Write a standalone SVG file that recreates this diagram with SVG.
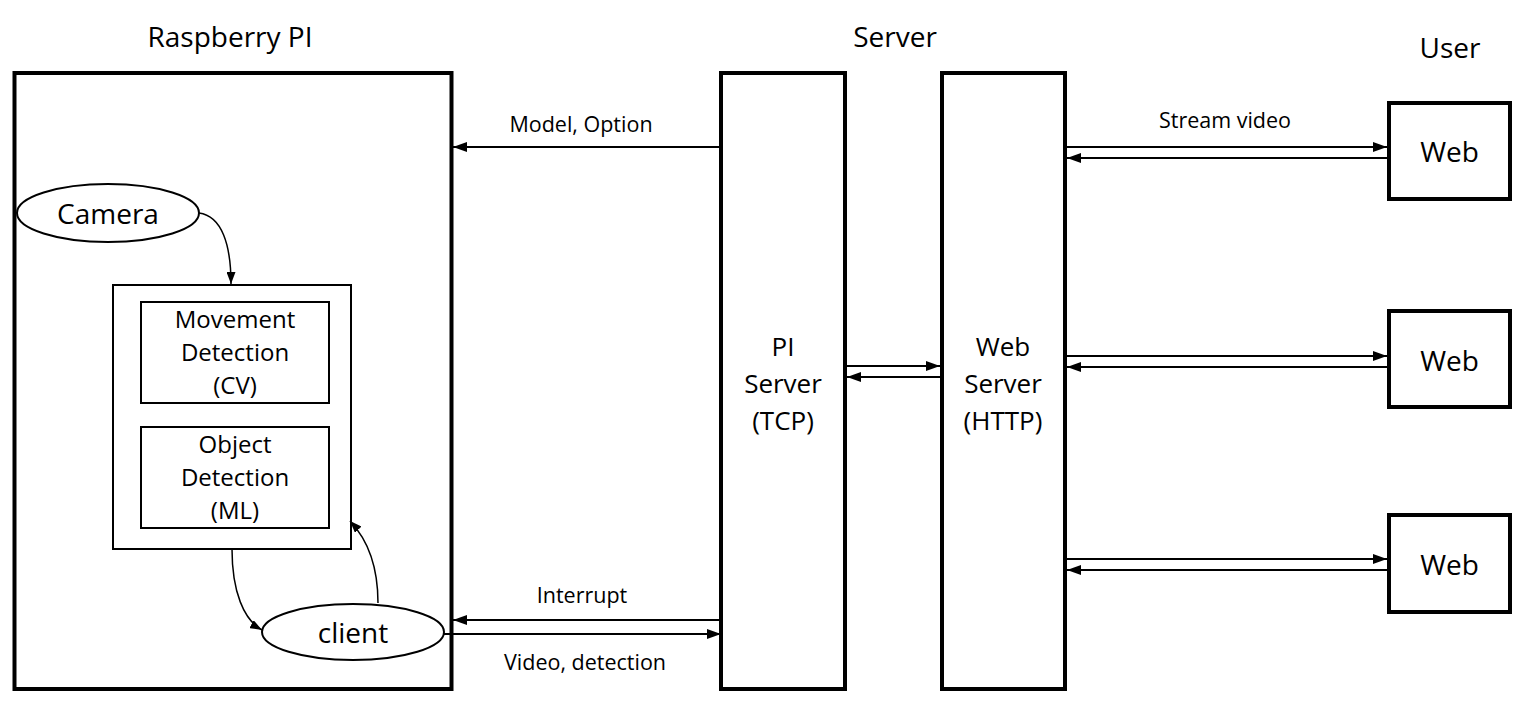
<svg xmlns="http://www.w3.org/2000/svg" width="1540" height="710" viewBox="0 0 1540 710">
<style>
text{font-family:"Open Sans","Noto Sans","Liberation Sans",sans-serif;fill:#000;text-anchor:middle}
.title{font-size:28px}
.big{font-size:28px}
.mid{font-size:26px}
.sm{font-size:24px}
.lbl{font-size:21.5px}
.thick{fill:#fff;stroke:#000;stroke-width:4}
.thin{fill:#fff;stroke:#000;stroke-width:2}
.ln{fill:none;stroke:#000;stroke-width:2}
.cv{fill:none;stroke:#000;stroke-width:1.5}
</style>
<defs>
<marker id="ah" viewBox="0 0 14 10" refX="14" refY="5" markerWidth="14" markerHeight="10" markerUnits="userSpaceOnUse" orient="auto">
<path d="M0,0 L14,5 L0,10 z" fill="#000"/>
</marker>
<marker id="ahs" viewBox="0 0 12 9" refX="12" refY="4.5" markerWidth="12" markerHeight="9" markerUnits="userSpaceOnUse" orient="auto">
<path d="M0,0 L12,4.5 L0,9 z" fill="#000"/>
</marker>
</defs>
<rect width="1540" height="710" fill="#fff"/>
<g id="titles">
<text class="title" x="230" y="47">Raspberry PI</text>
<text class="title" x="895" y="47">Server</text>
<text class="title" x="1450" y="58">User</text>
</g>
<g id="raspberry-pi">
<rect class="thick" x="14.5" y="73" width="437" height="616"/>
</g>
<g id="camera">
<ellipse class="thin" cx="108" cy="213" rx="91" ry="29"/>
<text class="big" x="108" y="224">Camera</text>
</g>
<g id="processing">
<rect class="thin" x="113" y="285" width="238" height="264"/>
</g>
<g id="movement-detection">
<rect class="thin" x="141" y="302" width="188" height="101"/>
<text class="sm" x="235" y="328">Movement</text>
<text class="sm" x="235" y="361">Detection</text>
<text class="sm" x="235" y="394">(CV)</text>
</g>
<g id="object-detection">
<rect class="thin" x="141" y="427" width="188" height="101"/>
<text class="sm" x="235" y="453">Object</text>
<text class="sm" x="235" y="486">Detection</text>
<text class="sm" x="235" y="519">(ML)</text>
</g>
<g id="client">
<ellipse class="thin" cx="353" cy="632" rx="91" ry="28"/>
<text class="big" x="353" y="643">client</text>
</g>
<g id="pi-server">
<rect class="thick" x="721" y="73" width="124" height="616"/>
<text class="mid" x="783" y="356">PI</text>
<text class="mid" x="783" y="393">Server</text>
<text class="mid" x="783" y="430">(TCP)</text>
</g>
<g id="web-server">
<rect class="thick" x="942" y="73" width="123" height="616"/>
<text class="mid" x="1003" y="356">Web</text>
<text class="mid" x="1003" y="393">Server</text>
<text class="mid" x="1003" y="430">(HTTP)</text>
</g>
<g id="web-1">
<rect class="thick" x="1389" y="103" width="121" height="96"/>
<text class="big" x="1449.5" y="162">Web</text>
</g>
<g id="web-2">
<rect class="thick" x="1389" y="311" width="121" height="96"/>
<text class="big" x="1449.5" y="371">Web</text>
</g>
<g id="web-3">
<rect class="thick" x="1389" y="515" width="121" height="97"/>
<text class="big" x="1449.5" y="575">Web</text>
</g>
<g id="connectors">
<path class="cv" d="M199,213 C222,216 231,245 231,284" marker-end="url(#ahs)"/>
<path class="cv" d="M232,549 C232,592 244,620 262,630" marker-end="url(#ahs)"/>
<path class="cv" d="M378,603 C378,568 368,540 350,521" marker-end="url(#ahs)"/>
<line class="ln" x1="721" y1="147" x2="453" y2="147" marker-end="url(#ah)"/>
<text class="lbl" x="581" y="132">Model, Option</text>
<line class="ln" x1="721" y1="620" x2="453" y2="620" marker-end="url(#ah)"/>
<text class="lbl" x="582" y="603">Interrupt</text>
<line class="ln" x1="444" y1="634" x2="721" y2="634" marker-end="url(#ah)"/>
<text class="lbl" x="585" y="670">Video, detection</text>
<line class="ln" x1="845" y1="366" x2="940" y2="366" marker-end="url(#ah)"/>
<line class="ln" x1="940" y1="377" x2="847" y2="377" marker-end="url(#ah)"/>
<line class="ln" x1="1067" y1="147" x2="1387" y2="147" marker-end="url(#ah)"/>
<line class="ln" x1="1387" y1="158" x2="1067" y2="158" marker-end="url(#ah)"/>
<text class="lbl" x="1225" y="128">Stream video</text>
<line class="ln" x1="1067" y1="356" x2="1387" y2="356" marker-end="url(#ah)"/>
<line class="ln" x1="1387" y1="367" x2="1067" y2="367" marker-end="url(#ah)"/>
<line class="ln" x1="1067" y1="559" x2="1387" y2="559" marker-end="url(#ah)"/>
<line class="ln" x1="1387" y1="570" x2="1067" y2="570" marker-end="url(#ah)"/>
</g>
</svg>
